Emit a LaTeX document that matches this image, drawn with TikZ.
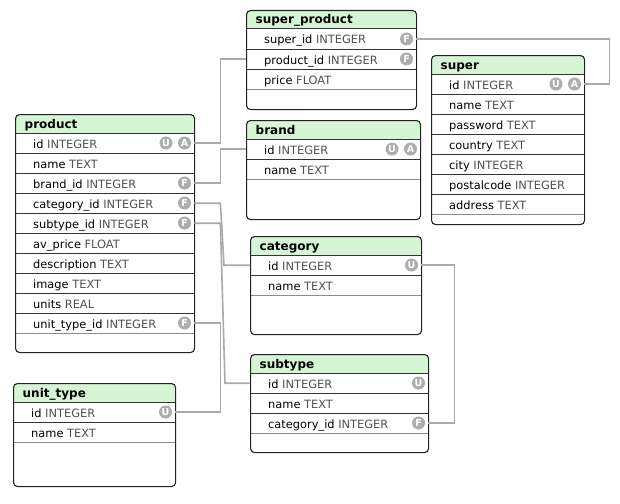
\documentclass[tikz,border=0pt]{standalone}
\usepackage{fontspec}
\setmainfont{DejaVu Sans}
\definecolor{headfill}{HTML}{D5F5D5}
\definecolor{typegray}{HTML}{505050}
\definecolor{conngray}{HTML}{AAAAAA}
\definecolor{badgegray}{HTML}{ADADAD}
\definecolor{framecol}{HTML}{222222}
\tikzset{
  tabframe/.style={draw=framecol, line width=1.1pt, rounded corners=4pt, inner sep=0pt},
  rowbox/.style={inner sep=0pt, minimum height=20pt},
  rowline/.style={draw=black!80, line width=1pt},
  lastline/.style={draw=black!45, line width=1.6pt},
  coltext/.style={inner sep=0pt, font=\fontsize{11.4}{13}\selectfont},
  titletext/.style={inner sep=0pt, font=\fontsize{12}{14}\selectfont\bfseries},
  badge/.style={circle, fill=badgegray, text=white, inner sep=0pt, minimum size=13pt, font=\fontsize{9.5}{10}\selectfont\bfseries},
  conn/.style={draw=conngray, line width=1.6pt},
}
% #1 name, #2 left, #3 top, #4 right, #5 bottom, #6 title
\newcommand{\dbtable}[6]{%
  \def\tN{#1}\def\tL{#2}\def\tT{#3}\def\tR{#4}\def\tB{#5}%
  \pgfmathsetmacro\tW{#4-#2}\pgfmathsetmacro\tH{#5-#3}%
  \begin{scope}
    \clip[rounded corners=4pt] (#2,#3) rectangle (#4,#5);
    \fill[white] (#2,#3) rectangle (#4,#5);
    \fill[headfill] (#2,#3) rectangle (#4,#3+19);
  \end{scope}
  \draw[rowline] (#2,#3+19) -- (#4,#3+19);
  \node (#1-title) [titletext, anchor=base west] at (#2+9.5,#3+14) {#6};
}
% #1 key, #2 index, #3 name, #4 type, #5 right badge, #6 second badge
\newcommand{\dbrow}[6]{%
  \node (\tN-#1) [rowbox, minimum width=\tW pt, anchor=north west] at (\tL,\tT+19+20*#2) {};
  \draw[rowline] (\tN-#1.south west) -- (\tN-#1.south east);
  \node (\tN-#1-text) [coltext, anchor=base west] at (\tL+18,\tT+34+20*#2) {#3 {\color{typegray}#4}};
  \if\relax\detokenize{#5}\relax\else
    \node (\tN-#1-b1) [badge] at (\tR-9.5,\tT+29+20*#2) {#5};
  \fi
  \if\relax\detokenize{#6}\relax\else
    \node (\tN-#1-b2) [badge] at (\tR-28,\tT+29+20*#2) {#6};
  \fi
}
\newcommand{\dbend}[1]{%
  \draw[lastline] (\tN-#1.south west) -- (\tN-#1.south east);
  \node (\tN) [tabframe, minimum width=\tW pt, minimum height=\tH pt, anchor=north west] at (\tL,\tT) {};
}
\begin{document}
\begin{tikzpicture}[x=1pt,y=-1pt]
\useasboundingbox (0,0) rectangle (620,503);
\fill[white] (0,0) rectangle (620,503);

\dbtable{superproduct}{246}{10}{416}{109}{super\_product}
\dbrow{superid}{0}{super\_id}{INTEGER}{F}{}
\dbrow{productid}{1}{product\_id}{INTEGER}{F}{}
\dbrow{price}{2}{price}{FLOAT}{}{}
\dbend{price}

\dbtable{super}{431}{55}{584}{224}{super}
\dbrow{id}{0}{id}{INTEGER}{A}{U}
\dbrow{name}{1}{name}{TEXT}{}{}
\dbrow{password}{2}{password}{TEXT}{}{}
\dbrow{country}{3}{country}{TEXT}{}{}
\dbrow{city}{4}{city}{INTEGER}{}{}
\dbrow{postalcode}{5}{postalcode}{INTEGER}{}{}
\dbrow{address}{6}{address}{TEXT}{}{}
\dbend{address}

\dbtable{product}{15}{114}{194}{352}{product}
\dbrow{id}{0}{id}{INTEGER}{A}{U}
\dbrow{name}{1}{name}{TEXT}{}{}
\dbrow{brandid}{2}{brand\_id}{INTEGER}{F}{}
\dbrow{categoryid}{3}{category\_id}{INTEGER}{F}{}
\dbrow{subtypeid}{4}{subtype\_id}{INTEGER}{F}{}
\dbrow{avprice}{5}{av\_price}{FLOAT}{}{}
\dbrow{description}{6}{description}{TEXT}{}{}
\dbrow{image}{7}{image}{TEXT}{}{}
\dbrow{units}{8}{units}{REAL}{}{}
\dbrow{unittypeid}{9}{unit\_type\_id}{INTEGER}{F}{}
\dbend{unittypeid}

\dbtable{brand}{246}{120}{420}{219}{brand}
\dbrow{id}{0}{id}{INTEGER}{A}{U}
\dbrow{name}{1}{name}{TEXT}{}{}
\dbend{name}

\dbtable{category}{250}{236}{421}{334}{category}
\dbrow{id}{0}{id}{INTEGER}{U}{}
\dbrow{name}{1}{name}{TEXT}{}{}
\dbend{name}

\dbtable{subtype}{250}{354}{428}{452}{subtype}
\dbrow{id}{0}{id}{INTEGER}{U}{}
\dbrow{name}{1}{name}{TEXT}{}{}
\dbrow{categoryid}{2}{category\_id}{INTEGER}{F}{}
\dbend{categoryid}

\dbtable{unittype}{13}{383}{175}{486}{unit\_type}
\dbrow{id}{0}{id}{INTEGER}{U}{}
\dbrow{name}{1}{name}{TEXT}{}{}
\dbend{name}

% connectors
\draw[conn] (product-id.east) -- ++(26,0) |- (superproduct-productid.west);
\draw[conn] (product-brandid.east) -- ++(26,0) |- (brand-id.west);
\draw[conn] (product-categoryid.east) -- ++(26,0) -- ([xshift=-26pt]category-id.west) -- (category-id.west);
\draw[conn] (product-subtypeid.east) -- ++(26,0) -- ([xshift=-25pt]subtype-id.west) -- (subtype-id.west);
\draw[conn] (product-unittypeid.east) -- ++(26,0) |- (unittype-id.east);
\draw[conn] (superproduct-superid.east) -- ++(193,0) |- (super-id.east);
\draw[conn] (category-id.east) -- ++(33,0) |- (subtype-categoryid.east);
\end{tikzpicture}
\end{document}
